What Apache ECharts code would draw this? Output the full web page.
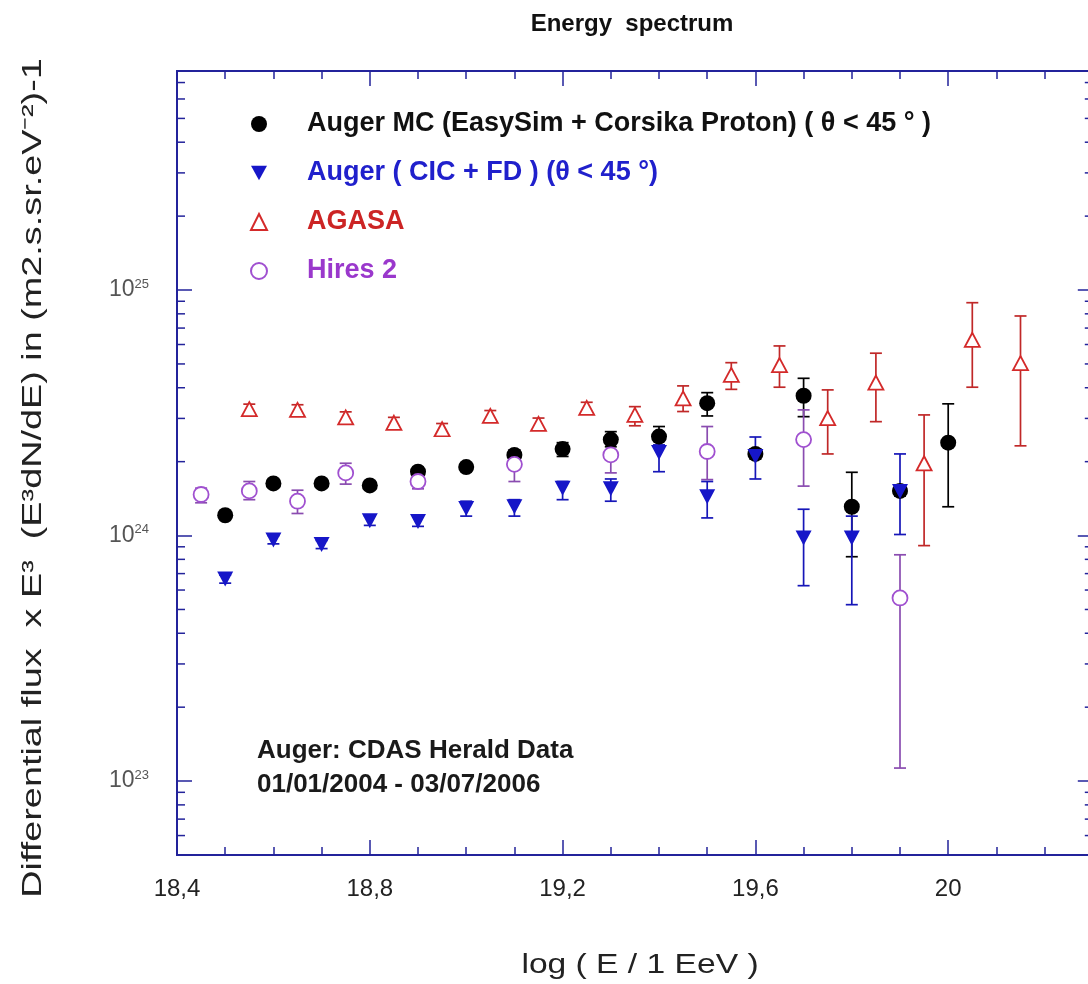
<!DOCTYPE html>
<html>
<head>
<meta charset="utf-8">
<title>Energy spectrum</title>
<script src="https://cdn.jsdelivr.net/npm/echarts@6.0.0/dist/echarts.min.js"></script>
<style>
  html, body { margin: 0; padding: 0; background: #fff; }
  #chart { width: 1088px; height: 984px; }
</style>
</head>
<body>
<div id="chart"></div>
<script>
// Auger MC (EasySim + Corsika Proton)
const mcE = [18.5, 18.6, 18.7, 18.8, 18.9, 19.0, 19.1, 19.2, 19.3, 19.4, 19.5, 19.6, 19.7, 19.8, 19.9, 20.0]
const mcFlux = [1.21e24, 1.63e24, 1.63e24, 1.60e24, 1.82e24, 1.90e24, 2.13e24, 2.25e24, 2.46e24, 2.53e24, 3.46e24, 2.15e24, 3.71e24, 1.31e24, 1.52e24, 2.39e24]
const mcLow = [1.17e24, 1.58e24, 1.58e24, 1.55e24, 1.75e24, 1.83e24, 2.05e24, 2.10e24, 2.30e24, 2.30e24, 3.07e24, 2.05e24, 3.05e24, 8.2e23, 1.45e24, 1.31e24]
const mcHigh = [1.25e24, 1.68e24, 1.68e24, 1.65e24, 1.89e24, 1.97e24, 2.22e24, 2.39e24, 2.65e24, 2.78e24, 3.82e24, 2.25e24, 4.37e24, 1.81e24, 1.60e24, 3.44e24]

// Auger ( CIC + FD )
const cicE = [18.5, 18.6, 18.7, 18.8, 18.9, 19.0, 19.1, 19.2, 19.3, 19.4, 19.5, 19.6, 19.7, 19.8, 19.9]
const cicFlux = [6.65e23, 9.6e23, 9.2e23, 1.15e24, 1.14e24, 1.29e24, 1.31e24, 1.56e24, 1.55e24, 2.18e24, 1.44e24, 2.10e24, 9.77e23, 9.77e23, 1.51e24]
const cicLow = [6.4e23, 9.25e23, 8.85e23, 1.10e24, 1.09e24, 1.20e24, 1.20e24, 1.40e24, 1.38e24, 1.82e24, 1.18e24, 1.70e24, 6.25e23, 5.23e23, 1.01e24]
const cicHigh = [6.9e23, 1.0e24, 9.55e23, 1.20e24, 1.19e24, 1.38e24, 1.40e24, 1.66e24, 1.70e24, 2.34e24, 1.66e24, 2.52e24, 1.28e24, 1.20e24, 2.15e24]

// AGASA
const agasaE = [18.55, 18.65, 18.75, 18.85, 18.95, 19.05, 19.15, 19.25, 19.35, 19.45, 19.55, 19.65, 19.75, 19.85, 19.95, 20.05, 20.15]
const agasaFlux = [3.27e24, 3.25e24, 3.03e24, 2.88e24, 2.71e24, 3.07e24, 2.85e24, 3.31e24, 3.10e24, 3.62e24, 4.51e24, 4.95e24, 3.01e24, 4.20e24, 1.97e24, 6.27e24, 5.04e24]
const agasaLow = [3.12e24, 3.10e24, 2.88e24, 2.74e24, 2.57e24, 2.92e24, 2.70e24, 3.14e24, 2.80e24, 3.20e24, 3.94e24, 4.02e24, 2.15e24, 2.91e24, 9.1e23, 4.02e24, 2.32e24]
const agasaHigh = [3.43e24, 3.41e24, 3.19e24, 3.03e24, 2.86e24, 3.23e24, 3.01e24, 3.49e24, 3.35e24, 4.07e24, 5.06e24, 5.92e24, 3.92e24, 5.53e24, 3.10e24, 8.88e24, 7.84e24]

// Hires 2
const hiresE = [18.45, 18.55, 18.65, 18.75, 18.9, 19.1, 19.3, 19.5, 19.7, 19.9]
const hiresFlux = [1.47e24, 1.52e24, 1.38e24, 1.80e24, 1.66e24, 1.95e24, 2.13e24, 2.20e24, 2.46e24, 5.57e23]
const hiresLow = [1.36e24, 1.40e24, 1.23e24, 1.62e24, 1.55e24, 1.66e24, 1.80e24, 1.69e24, 1.59e24, 1.13e23]
const hiresHigh = [1.56e24, 1.66e24, 1.53e24, 1.97e24, 1.89e24, 2.23e24, 2.39e24, 2.78e24, 3.25e24, 8.35e23]

// axes
const xLabels = { '18.4': '18,4', '18.8': '18,8', '19.2': '19,2', '19.6': '19,6', '20': '20' }
const yMinorTicks = [6e22, 7e22, 8e22, 9e22,
  2e23, 3e23, 4e23, 5e23, 6e23, 7e23, 8e23, 9e23,
  2e24, 3e24, 4e24, 5e24, 6e24, 7e24, 8e24, 9e24,
  2e25, 3e25, 4e25, 5e25, 6e25, 7e25]

const X_MIN = 18.4
const X_MAX = 20.3
const Y_MIN = 5e22
const Y_MAX = 7.8e25
const AXIS_COLOR = '#23239b'
const FONT = '"Liberation Sans", Arial, Helvetica, sans-serif'
const CAP = 6

const names = {
  mc: 'Auger MC (EasySim + Corsika Proton) ( θ < 45 ° )',
  cic: 'Auger ( CIC + FD ) (θ < 45 °)',
  agasa: 'AGASA',
  hires: 'Hires 2'
}
const colors = { mc: '#000000', cic: '#1616c8', agasa: '#d42a2a', hires: '#a050d0' }
const barColors = { mc: '#000000', cic: '#1616b8', agasa: '#c02828', hires: '#8a4cb0' }

function points(E, flux) {
  return E.map((e, i) => [e, flux[i]])
}
function bars(E, flux, low, high) {
  return E.map((e, i) => [e, flux[i], low[i], high[i]])
}

// barre d'erreur verticale avec petits chapeaux
function renderErrorBar(params, api) {
  const x = api.value(0)
  const hi = api.coord([x, api.value(3)])
  const lo = api.coord([x, api.value(2)])
  const style = { stroke: api.visual('color'), lineWidth: 1.7, fill: null }
  return {
    type: 'group',
    children: [
      { type: 'line', shape: { x1: hi[0], y1: hi[1], x2: lo[0], y2: lo[1] }, style: style },
      { type: 'line', shape: { x1: hi[0] - CAP, y1: hi[1], x2: hi[0] + CAP, y2: hi[1] }, style: style },
      { type: 'line', shape: { x1: lo[0] - CAP, y1: lo[1], x2: lo[0] + CAP, y2: lo[1] }, style: style }
    ]
  }
}

// graduations secondaires de l'axe log (gauche et droite)
function renderMinorTick(params, api) {
  const y = api.coord([X_MIN, api.value(1)])[1]
  const cs = params.coordSys
  const style = { stroke: AXIS_COLOR, lineWidth: 1.5 }
  return {
    type: 'group',
    children: [
      { type: 'line', shape: { x1: cs.x, y1: y, x2: cs.x + 8, y2: y }, style: style },
      { type: 'line', shape: { x1: cs.x + cs.width - 8, y1: y, x2: cs.x + cs.width, y2: y }, style: style }
    ]
  }
}

function errorSeries(key, data) {
  return {
    name: key + '-err',
    type: 'custom',
    renderItem: renderErrorBar,
    itemStyle: { color: barColors[key] },
    encode: { x: 0, y: [1, 2, 3] },
    data: data,
    silent: true,
    z: 2
  }
}

function xAxisDef(position, interval, tickLen, labels) {
  return {
    type: 'value',
    position: position,
    min: X_MIN,
    max: X_MAX,
    interval: interval,
    axisLine: { show: true, lineStyle: { color: AXIS_COLOR, width: 2 } },
    axisTick: { show: true, inside: true, length: tickLen, lineStyle: { color: AXIS_COLOR, width: 1.5 } },
    axisLabel: labels ? {
      show: true,
      margin: 22,
      color: '#222',
      fontFamily: FONT,
      fontSize: 24,
      formatter: function (v) {
        const key = String(Math.round(v * 10) / 10)
        return xLabels[key] || ''
      }
    } : { show: false },
    splitLine: { show: false }
  }
}

function yAxisDef(position, labels) {
  return {
    type: 'log',
    logBase: 10,
    position: position,
    min: Y_MIN,
    max: Y_MAX,
    axisLine: { show: true, lineStyle: { color: AXIS_COLOR, width: 2 } },
    axisTick: { show: true, inside: true, length: 15, lineStyle: { color: AXIS_COLOR, width: 1.5 } },
    axisLabel: labels ? {
      show: true,
      margin: 28,
      formatter: function (v) {
        const p = Math.log10(v)
        if (Math.abs(p - Math.round(p)) > 1e-6) return ''
        return '{b|10}{s|' + Math.round(p) + '}'
      },
      rich: {
        b: { fontFamily: FONT, fontSize: 23, color: '#555', lineHeight: 25 },
        s: { fontFamily: FONT, fontSize: 13, color: '#555', lineHeight: 10, verticalAlign: 'top' }
      }
    } : { show: false },
    splitLine: { show: false }
  }
}

const chart = echarts.init(document.getElementById('chart'))

const option = {
  animation: false,
  backgroundColor: '#fff',
  grid: {
    left: 177, top: 71, bottom: 129,
    right: 1088 - (177 + 482 * (X_MAX - X_MIN)),
    containLabel: false,
    outerBoundsMode: 'none'
  },
  xAxis: [
    xAxisDef('bottom', 0.1, 8, false),
    xAxisDef('bottom', 0.4, 15, true),
    xAxisDef('top', 0.1, 8, false),
    xAxisDef('top', 0.4, 15, false)
  ],
  yAxis: [yAxisDef('left', true), yAxisDef('right', false)],
  legend: {
    orient: 'vertical',
    left: 245,
    top: 105,
    itemWidth: 16,
    itemHeight: 16,
    itemGap: 21,
    selectedMode: false,
    textStyle: { fontFamily: FONT, fontWeight: 'bold', fontSize: 27, lineHeight: 28, padding: [0, 0, 0, 35] },
    data: [
      { name: names.mc, textStyle: { color: '#111' } },
      { name: names.cic, textStyle: { color: '#2020cc' } },
      { name: names.agasa, textStyle: { color: '#cc2424' } },
      { name: names.hires, textStyle: { color: '#9a38cc' } }
    ]
  },
  graphic: [
    {
      type: 'text', x: 632, y: 24,
      style: { text: 'Energy  spectrum', font: 'bold 24px ' + FONT, fill: '#111', textAlign: 'center', textVerticalAlign: 'middle' }
    },
    {
      type: 'text', x: 640, y: 965, scaleX: 1.2,
      style: { text: 'log ( E / 1 EeV )', font: '28px ' + FONT, fill: '#222', textAlign: 'center', textVerticalAlign: 'middle' }
    },
    {
      type: 'text', x: 34, y: 478, rotation: Math.PI / 2, scaleX: 1.4,
      style: { text: 'Differential flux  x E³  (E³dN/dE) in (m2.s.sr.eV⁻²)-1', font: '27px ' + FONT, fill: '#222', textAlign: 'center', textVerticalAlign: 'middle' }
    },
    {
      type: 'text', x: 257, y: 751,
      style: { text: 'Auger: CDAS Herald Data', font: 'bold 26px ' + FONT, fill: '#1a1a1a', textVerticalAlign: 'middle' }
    },
    {
      type: 'text', x: 257, y: 785,
      style: { text: '01/01/2004 - 03/07/2006', font: 'bold 26px ' + FONT, fill: '#1a1a1a', textVerticalAlign: 'middle' }
    }
  ],
  series: [
    {
      name: 'minor-ticks',
      type: 'custom',
      renderItem: renderMinorTick,
      encode: { x: 0, y: 1 },
      data: yMinorTicks.map(v => [X_MIN, v]),
      silent: true,
      z: 1
    },
    errorSeries('mc', bars(mcE, mcFlux, mcLow, mcHigh)),
    errorSeries('hires', bars(hiresE, hiresFlux, hiresLow, hiresHigh)),
    errorSeries('agasa', bars(agasaE, agasaFlux, agasaLow, agasaHigh)),
    errorSeries('cic', bars(cicE, cicFlux, cicLow, cicHigh)),
    {
      name: names.mc,
      type: 'scatter',
      symbol: 'circle',
      symbolSize: 16,
      itemStyle: { color: colors.mc, opacity: 1 },
      data: points(mcE, mcFlux),
      z: 3
    },
    {
      name: names.hires,
      type: 'scatter',
      symbol: 'circle',
      symbolSize: 15,
      itemStyle: { color: '#fff', borderColor: colors.hires, borderWidth: 1.8, opacity: 1 },
      data: points(hiresE, hiresFlux),
      z: 3
    },
    {
      name: names.agasa,
      type: 'scatter',
      symbol: 'triangle',
      symbolSize: [15, 14],
      itemStyle: { color: '#fff', borderColor: colors.agasa, borderWidth: 1.8, opacity: 1 },
      data: points(agasaE, agasaFlux),
      z: 3
    },
    {
      name: names.cic,
      type: 'scatter',
      symbol: 'path://M0,0 L20,0 L10,18 Z',
      symbolSize: [16, 15],
      itemStyle: { color: colors.cic, opacity: 1 },
      data: points(cicE, cicFlux),
      z: 3
    }
  ]
}

chart.setOption(option)
</script>
</body>
</html>
